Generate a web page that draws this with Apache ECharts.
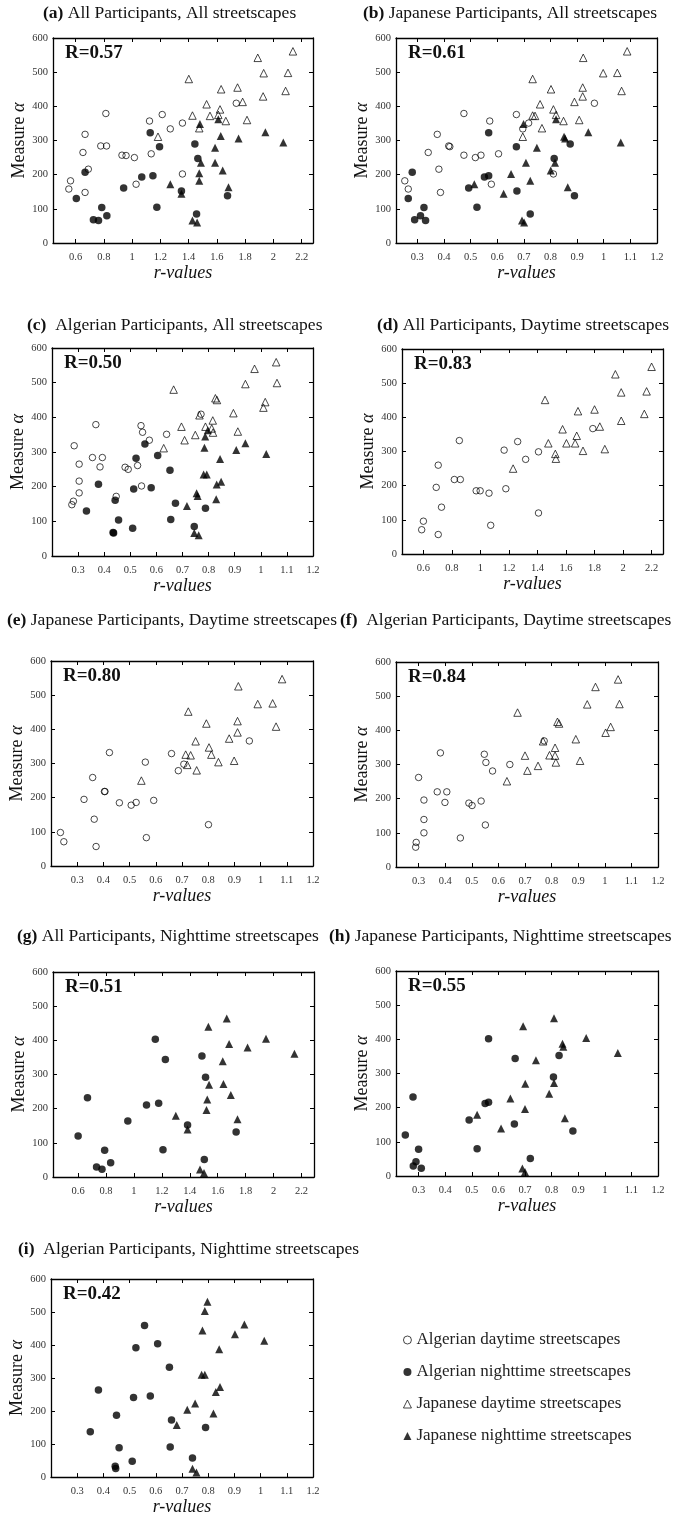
<!DOCTYPE html>
<html>
<head>
<meta charset="utf-8">
<script src="https://cdn.jsdelivr.net/npm/echarts@6/dist/echarts.min.js"></script>
<style>
  html, body { margin: 0; padding: 0; background: #fff; }
  #main { width: 681px; height: 1517px; }
</style>
</head>
<body>
<div id="main"></div>
<script>
// r-value / Measure alpha pairs
// AlgDay = open circle, AlgNight = filled circle, JpnDay = open triangle, JpnNight = filled triangle
var aAlgDay = [[0.552,158],[0.564,182],[0.652,265],[0.667,318],[0.667,148],[0.69,216],[0.778,284],[0.819,284],[0.814,379],[0.928,257],[0.957,256],[1.016,250],[1.028,172],[1.123,357],[1.135,261],[1.213,376],[1.27,334],[1.356,351],[1.356,202],[1.737,409]];
var aAlgNight = [[0.605,130],[0.667,207],[0.726,68],[0.762,66],[0.785,104],[0.821,80],[0.94,161],[1.068,193],[1.128,323],[1.147,197],[1.175,105],[1.194,282],[1.349,152],[1.444,290],[1.456,85],[1.465,247],[1.675,138]];
var aJpnDay = [[1.401,480],[1.427,373],[1.183,311],[1.475,336],[1.527,406],[1.551,372],[1.622,391],[1.63,450],[1.61,375],[1.663,357],[1.746,455],[1.782,413],[1.813,360],[1.889,542],[1.931,497],[1.927,429],[2.103,498],[2.086,445],[2.138,561]];
var aJpnNight = [[1.48,348],[1.587,279],[1.627,313],[1.61,362],[1.753,306],[1.943,324],[2.07,294],[1.27,172],[1.349,144],[1.487,235],[1.475,204],[1.475,182],[1.587,235],[1.641,212],[1.682,163],[1.427,66],[1.46,60]];

var bAlgDay = [[0.253,182],[0.266,158],[0.341,265],[0.375,318],[0.381,216],[0.387,148],[0.418,284],[0.422,282],[0.475,379],[0.475,257],[0.518,250],[0.539,257],[0.605,261],[0.578,172],[0.572,357],[0.672,376],[0.696,334],[0.718,351],[0.811,202],[0.965,409]];
var bAlgNight = [[0.266,130],[0.281,207],[0.29,68],[0.312,80],[0.325,104],[0.331,66],[0.493,161],[0.552,193],[0.568,197],[0.568,323],[0.524,105],[0.672,282],[0.674,152],[0.874,290],[0.724,85],[0.814,247],[0.89,138]];
var bJpnDay = [[0.733,480],[0.733,373],[0.696,311],[0.768,336],[0.761,406],[0.742,372],[0.811,391],[0.802,450],[0.821,375],[0.849,357],[0.921,455],[0.89,413],[0.908,360],[0.923,542],[0.998,497],[0.921,429],[1.051,498],[1.067,445],[1.088,561]];
var bJpnNight = [[0.514,172],[0.652,202],[0.708,235],[0.724,182],[0.624,144],[0.749,279],[0.699,348],[0.821,362],[0.851,311],[0.855,306],[0.942,324],[1.064,294],[0.801,212],[0.817,235],[0.865,163],[0.693,66],[0.701,60]];

var cAlgDay = [[0.276,148],[0.282,158],[0.285,318],[0.304,182],[0.304,216],[0.304,265],[0.368,379],[0.355,284],[0.393,284],[0.384,257],[0.446,172],[0.48,256],[0.492,250],[0.528,261],[0.541,376],[0.547,357],[0.573,334],[0.543,202],[0.639,351],[0.771,409]];
var cAlgNight = [[0.332,130],[0.378,207],[0.434,68],[0.436,66],[0.455,104],[0.442,161],[0.509,80],[0.513,193],[0.522,282],[0.556,323],[0.58,197],[0.605,290],[0.652,247],[0.655,105],[0.673,152],[0.745,85],[0.788,138]];
var cJpnDay = [[0.666,480],[0.696,373],[0.628,311],[0.708,334],[0.765,406],[0.749,349],[0.816,391],[0.788,373],[0.817,356],[0.812,368],[0.826,455],[0.832,450],[0.895,412],[0.912,359],[0.976,540],[0.941,496],[1.017,444],[1.01,428],[1.062,499],[1.059,559]];
var cJpnNight = [[0.717,144],[0.754,181],[0.758,173],[0.781,235],[0.793,235],[0.831,206],[0.848,214],[0.829,164],[0.844,280],[0.784,312],[0.787,345],[0.797,363],[0.906,306],[0.941,325],[1.021,294],[0.745,66],[0.762,60]];

var dAlgDay = [[0.588,71],[0.6,96],[0.69,195],[0.704,260],[0.704,57],[0.727,137],[0.817,218],[0.859,218],[0.852,332],[0.97,185],[0.998,185],[1.06,178],[1.072,84],[1.166,304],[1.178,191],[1.261,329],[1.317,277],[1.407,299],[1.407,120],[1.788,367]];
var dJpnDay = [[1.229,250],[1.453,451],[1.476,324],[1.525,293],[1.529,279],[1.576,365],[1.603,324],[1.664,324],[1.675,346],[1.684,418],[1.719,302],[1.8,423],[1.837,373],[1.872,307],[1.946,526],[1.987,390],[1.987,473],[2.149,410],[2.165,476],[2.2,548]];

var eAlgDay = [[0.236,98],[0.249,71],[0.326,195],[0.359,259],[0.365,137],[0.372,57],[0.404,218],[0.406,218],[0.423,332],[0.461,185],[0.506,178],[0.525,186],[0.56,304],[0.564,83],[0.592,192],[0.66,329],[0.686,279],[0.707,298],[0.801,121],[0.957,366]];
var eJpnDay = [[0.545,250],[0.724,452],[0.714,326],[0.733,324],[0.72,296],[0.752,365],[0.756,280],[0.793,417],[0.803,347],[0.812,326],[0.839,304],[0.88,373],[0.899,308],[0.912,424],[0.912,391],[0.915,526],[0.989,474],[1.046,476],[1.059,408],[1.082,547]];

var fAlgDay = [[0.3,262],[0.32,196],[0.32,139],[0.32,100],[0.291,72],[0.289,58],[0.37,220],[0.382,334],[0.399,189],[0.406,220],[0.457,85],[0.489,187],[0.501,180],[0.535,193],[0.547,330],[0.553,306],[0.551,123],[0.578,281],[0.643,300],[0.772,369]];
var fJpnDay = [[0.632,251],[0.672,452],[0.7,326],[0.709,282],[0.749,296],[0.768,368],[0.792,327],[0.813,349],[0.813,326],[0.816,306],[0.822,425],[0.828,420],[0.891,374],[0.907,311],[0.934,476],[0.965,527],[1.003,393],[1.022,410],[1.05,549],[1.055,477]];

var gAlgNight = [[1.153,403],[1.225,344],[1.487,354],[1.513,292],[0.667,232],[1.09,211],[1.177,216],[0.956,164],[0.6,120],[0.79,78],[0.732,29],[0.771,23],[0.833,42],[1.208,80],[1.384,152],[1.504,51],[1.732,132]];
var gJpnNight = [[1.533,440],[1.665,464],[1.946,405],[1.682,389],[1.814,379],[2.15,361],[1.636,339],[1.538,270],[1.641,272],[1.694,240],[1.525,227],[1.3,179],[1.52,196],[1.384,139],[1.742,169],[1.473,22],[1.502,12]];

var hAlgNight = [[0.563,402],[0.663,344],[0.828,353],[0.807,290],[0.279,231],[0.55,212],[0.563,216],[0.49,164],[0.25,120],[0.3,78],[0.28,29],[0.31,23],[0.29,42],[0.52,80],[0.66,152],[0.72,51],[0.88,132]];
var hJpnNight = [[0.693,438],[0.809,462],[0.93,404],[0.841,387],[0.844,378],[1.049,360],[0.741,339],[0.701,270],[0.809,272],[0.791,241],[0.645,227],[0.52,179],[0.7,196],[0.61,139],[0.85,169],[0.69,22],[0.7,12]];

var iAlgNight = [[0.557,459],[0.524,392],[0.607,404],[0.652,333],[0.381,264],[0.515,241],[0.579,246],[0.45,187],[0.35,137],[0.46,89],[0.445,33],[0.447,26],[0.51,48],[0.655,91],[0.66,173],[0.74,58],[0.79,150]];
var iJpnNight = [[0.797,531],[0.787,503],[0.778,444],[0.938,462],[0.902,433],[1.014,413],[0.842,387],[0.775,310],[0.787,310],[0.845,273],[0.829,258],[0.72,204],[0.75,223],[0.68,158],[0.82,193],[0.74,25],[0.755,14]];

// axis ticks
var ticksWide = [0.6, 0.8, 1, 1.2, 1.4, 1.6, 1.8, 2, 2.2];
var ticksNarrow = [0.3, 0.4, 0.5, 0.6, 0.7, 0.8, 0.9, 1, 1.1, 1.2];
var rValues = ['R=0.57', 'R=0.61', 'R=0.50', 'R=0.83', 'R=0.80', 'R=0.84', 'R=0.51', 'R=0.55', 'R=0.42'];
var seriesNames = ['Algerian daytime streetscapes', 'Algerian nighttime streetscapes', 'Japanese daytime streetscapes', 'Japanese nighttime streetscapes'];

var FONT = '"Liberation Serif", "Times New Roman", serif';

// layout of each panel: box = [left, top, width, height], tp = title [left, top]
var panels = [
  {lab:'(a)', text:' All Participants, All streetscapes', tp:[43,3], box:[53,38,260,205], xr:[0.44,2.28], ticks:ticksWide, data:[aAlgDay,aAlgNight,aJpnDay,aJpnNight]},
  {lab:'(b)', text:' Japanese Participants, All streetscapes', tp:[363,3], box:[396,38,261,205], xr:[0.22,1.2], ticks:ticksNarrow, data:[bAlgDay,bAlgNight,bJpnDay,bJpnNight]},
  {lab:'(c)', text:'  Algerian Participants, All streetscapes', tp:[27,315], box:[52,348,261,208], xr:[0.2,1.2], ticks:ticksNarrow, data:[cAlgDay,cAlgNight,cJpnDay,cJpnNight]},
  {lab:'(d)', text:' All Participants, Daytime streetscapes', tp:[377,315], box:[402,349,261,205], xr:[0.45,2.28], ticks:ticksWide, data:[dAlgDay,null,dJpnDay,null]},
  {lab:'(e)', text:' Japanese Participants, Daytime streetscapes', tp:[7,610], box:[51,661,262,205], xr:[0.2,1.2], ticks:ticksNarrow, data:[eAlgDay,null,eJpnDay,null]},
  {lab:'(f)', text:'  Algerian Participants, Daytime streetscapes', tp:[340,610], box:[396,662,262,205], xr:[0.215,1.2], ticks:ticksNarrow, data:[fAlgDay,null,fJpnDay,null]},
  {lab:'(g)', text:' All Participants, Nighttime streetscapes', tp:[17,926], box:[53,972,261,205], xr:[0.42,2.29], ticks:ticksWide, data:[null,gAlgNight,null,gJpnNight]},
  {lab:'(h)', text:' Japanese Participants, Nighttime streetscapes', tp:[329,926], box:[396,971,262,205], xr:[0.215,1.2], ticks:ticksNarrow, data:[null,hAlgNight,null,hJpnNight]},
  {lab:'(i)', text:'  Algerian Participants, Nighttime streetscapes', tp:[18,1239], box:[51,1279,262,204], xr:[0.2,1.2], ticks:ticksNarrow, data:[null,iAlgNight,null,iJpnNight]}
];

var markStyles = [
  {symbol:'circle', symbolSize:6.5, itemStyle:{color:'rgba(0,0,0,0)', borderColor:'#000', borderWidth:0.9}},
  {symbol:'circle', symbolSize:7.5, itemStyle:{color:'#000', borderWidth:0}},
  {symbol:'triangle', symbolSize:7.5, itemStyle:{color:'rgba(0,0,0,0)', borderColor:'#000', borderWidth:0.9}},
  {symbol:'triangle', symbolSize:8, itemStyle:{color:'#000', borderWidth:0}}
];

var frame = {color:'#000', width:1.3};
var grid = [], xAxis = [], yAxis = [], series = [], title = [];

panels.forEach(function (p, i) {
  grid.push({left:p.box[0], top:p.box[1], width:p.box[2], height:p.box[3]});

  title.push({
    left:p.tp[0], top:p.tp[1], padding:0,
    text:'{b|' + p.lab + '}' + p.text,
    textStyle:{fontFamily:FONT, fontSize:17.5, fontWeight:'normal', color:'#111', lineHeight:20,
      rich:{b:{fontFamily:FONT, fontSize:17.5, fontWeight:'bold', color:'#111', lineHeight:20}}}
  });
  title.push({
    left:p.box[0] + 12, top:p.box[1] + 6, padding:0, text:rValues[i],
    textStyle:{fontFamily:FONT, fontSize:19, fontWeight:'bold', color:'#111'}
  });

  var fmt = function (v) { return String(Math.round(v * 10) / 10); };
  xAxis.push({
    gridIndex:i, type:'value', position:'bottom', min:p.xr[0], max:p.xr[1],
    axisLine:{onZero:false, lineStyle:frame},
    axisTick:{inside:true, length:4, customValues:p.ticks, lineStyle:{color:'#000'}},
    axisLabel:{customValues:p.ticks, formatter:fmt, fontFamily:FONT, fontSize:10.5, color:'#333', margin:9},
    splitLine:{show:false},
    name:'r-values', nameLocation:'middle', nameGap:15,
    nameTextStyle:{fontFamily:FONT, fontSize:18, fontStyle:'italic', color:'#111'}
  });
  // mirrored top axis: Matlab style box with ticks
  xAxis.push({
    gridIndex:i, type:'value', position:'top', min:p.xr[0], max:p.xr[1],
    axisLine:{onZero:false, lineStyle:frame},
    axisTick:{inside:true, length:4, customValues:p.ticks, lineStyle:{color:'#000'}},
    axisLabel:{show:false}, splitLine:{show:false}
  });
  yAxis.push({
    gridIndex:i, type:'value', position:'left', min:0, max:600, interval:100,
    axisLine:{show:true, onZero:false, lineStyle:frame},
    axisTick:{show:true, inside:true, length:4, lineStyle:{color:'#000'}},
    axisLabel:{fontFamily:FONT, fontSize:10.5, color:'#333', margin:5},
    splitLine:{show:false},
    name:'{m|Measure }{g|α}', nameLocation:'middle', nameGap:17,
    nameTextStyle:{rich:{
      m:{fontFamily:FONT, fontSize:18, color:'#111'},
      g:{fontFamily:FONT, fontSize:18, fontStyle:'italic', color:'#111'}
    }}
  });
  yAxis.push({
    gridIndex:i, type:'value', position:'right', min:0, max:600, interval:100,
    axisLine:{show:true, onZero:false, lineStyle:frame},
    axisTick:{show:true, inside:true, length:4, lineStyle:{color:'#000'}},
    axisLabel:{show:false}, splitLine:{show:false}
  });

  p.data.forEach(function (d, k) {
    if (!d) return;
    series.push({
      type:'scatter', name:seriesNames[k], xAxisIndex:2 * i, yAxisIndex:2 * i,
      symbol:markStyles[k].symbol, symbolSize:markStyles[k].symbolSize,
      itemStyle:markStyles[k].itemStyle, data:d, z:2 + k
    });
  });
});

var legendData = seriesNames.map(function (n, k) {
  return {name:n, icon:markStyles[k].symbol, itemStyle:markStyles[k].itemStyle};
});

var chart = echarts.init(document.getElementById('main'));
chart.setOption({
  animation:false,
  backgroundColor:'#fff',
  title:title,
  grid:grid,
  xAxis:xAxis,
  yAxis:yAxis,
  legend:{
    orient:'vertical', left:398, top:1325, itemWidth:8, itemHeight:8, itemGap:12,
    selectedMode:false, data:legendData,
    textStyle:{fontFamily:FONT, fontSize:17, color:'#222', lineHeight:20}
  },
  series:series
});
</script>
</body>
</html>
